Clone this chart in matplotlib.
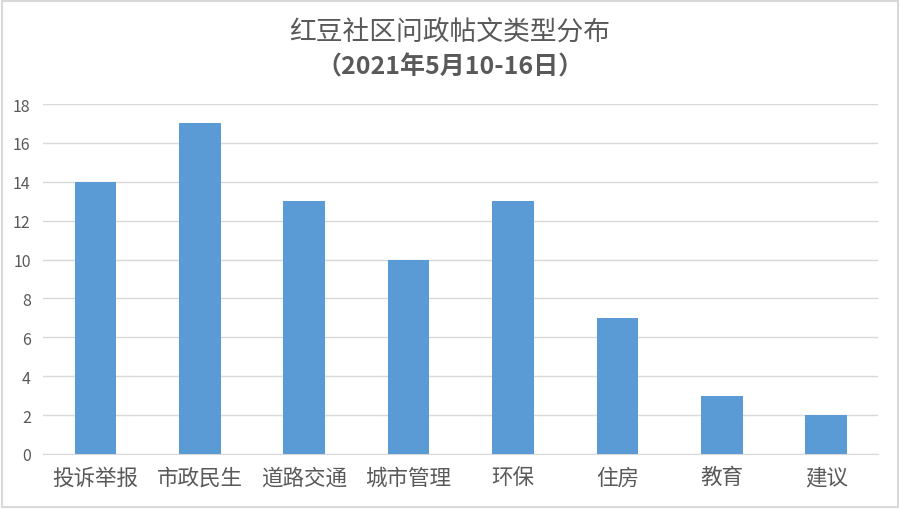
import matplotlib
matplotlib.use("Agg")
import matplotlib.pyplot as plt
from matplotlib.patches import Rectangle

plt.rcParams['font.family'] = ['Noto Sans CJK SC', 'DejaVu Sans']

categories = ["投诉举报", "市政民生", "道路交通", "城市管理", "环保", "住房", "教育", "建议"]
values = [14, 17, 13, 10, 13, 7, 3, 2]
yticks = [0, 2, 4, 6, 8, 10, 12, 14, 16, 18]

fig = plt.figure(figsize=(9, 5.1), dpi=100)
ax = fig.add_axes([0.048, 0.108, 0.928, 0.686])

x = list(range(len(categories)))
ax.bar(x, values, width=0.4, color="#5B9BD5", zorder=3)
ax.set_xlim(-0.5, len(categories) - 0.5)
ax.set_ylim(0, 18)
ax.set_yticks(yticks)
ax.set_xticks(x)
ax.set_xticklabels(categories, fontsize=15.5, color="#595959")
ax.tick_params(axis='y', labelsize=11.5, colors="#595959", length=0, pad=9)
ax.tick_params(axis='x', length=0, pad=9)
ax.grid(axis='y', color="#D9D9D9", linewidth=1, zorder=0)
for s in ["top", "right", "left"]:
    ax.spines[s].set_visible(False)
ax.spines["bottom"].set_color("#D9D9D9")

fig.text(0.5, 0.935, "红豆社区问政帖文类型分布", ha='center', va='center', fontsize=19.3, color="#595959")
fig.text(0.5, 0.868, "（2021年5月10-16日）", ha='center', va='center', fontsize=18, color="#595959", fontweight='bold')

fig.patches.append(Rectangle((0.002, 0.003), 0.996, 0.994, transform=fig.transFigure,
                             fill=False, edgecolor="#D9D9D9", linewidth=1.5))

fig.savefig("out.png", dpi=100, facecolor="white")
